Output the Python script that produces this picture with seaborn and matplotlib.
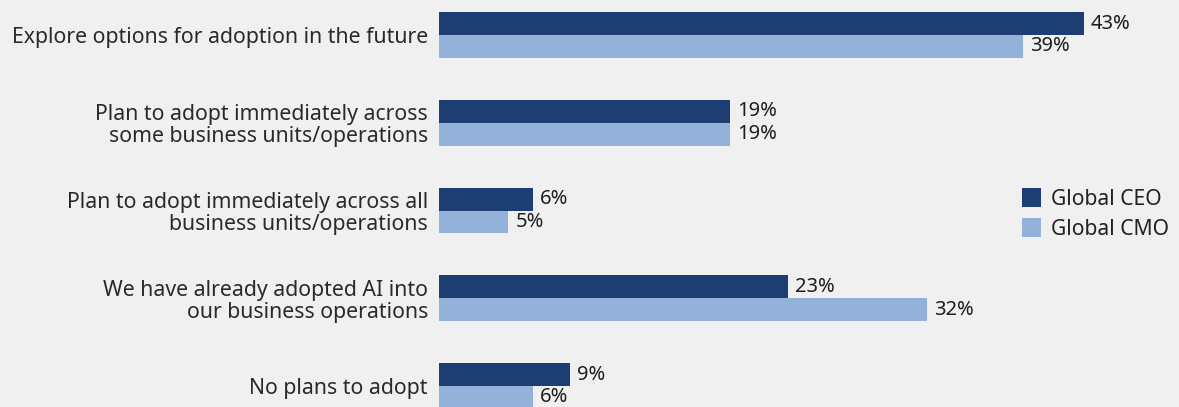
import matplotlib
matplotlib.use("Agg")
import matplotlib.pyplot as plt
import seaborn as sns
import pandas as pd

# data (bar lengths, in %)
categories = [
    "Explore options for adoption in the future",
    "Plan to adopt immediately across\nsome business units/operations",
    "Plan to adopt immediately across all\nbusiness units/operations",
    "We have already adopted AI into\nour business operations",
    "No plans to adopt",
]
series = ["Global CEO", "Global CMO"]
ceo = [42.7, 19.3, 6.2, 23.1, 8.7]
cmo = [38.7, 19.3, 4.6, 32.3, 6.2]

colors = {"Global CEO": "#1d3e72", "Global CMO": "#94b2d9"}
bg = "#f0f0f0"

df = pd.DataFrame({
    "category": categories * 2,
    "group": [series[0]] * len(ceo) + [series[1]] * len(cmo),
    "value": ceo + cmo,
})

sns.set_theme(style="white")
plt.rcParams["font.family"] = ["Noto Sans", "DejaVu Sans"]

fig = plt.figure(figsize=(11.79, 4.07), dpi=100, facecolor=bg)
ax = fig.add_axes([439 / 1179, 0, 740 / 1179, 1])
ax.set_facecolor(bg)

sns.barplot(data=df, y="category", x="value", hue="group", order=categories,
            hue_order=series, palette=colors, orient="h", width=0.52,
            saturation=1, linewidth=0, ax=ax, legend=True)

for cont in ax.containers:
    ax.bar_label(cont, labels=[f"{v:.0f}%" for v in cont.datavalues],
                 padding=5, fontsize=14.5, color="#1e1e1e")

ax.set_xlim(0, 740 / 15.1)
ax.set_ylim(4.24, -0.40)
ax.set_xlabel("")
ax.set_ylabel("")
ax.set_xticks([])
ax.tick_params(axis="y", length=0, pad=8, labelsize=15.3, labelcolor="#2a2a2a")
for lbl in ax.get_yticklabels():
    lbl.set_linespacing(1.05)
for s in ax.spines.values():
    s.set_visible(False)

leg = ax.legend(loc="center left", bbox_to_anchor=(575 / 740, 0.475), frameon=False,
                fontsize=15.2, handlelength=0.9, handleheight=1.05, handletextpad=0.45,
                labelspacing=0.38, borderaxespad=0)
for t in leg.get_texts():
    t.set_color("#222222")

fig.savefig("out.png", dpi=100, facecolor=bg)
